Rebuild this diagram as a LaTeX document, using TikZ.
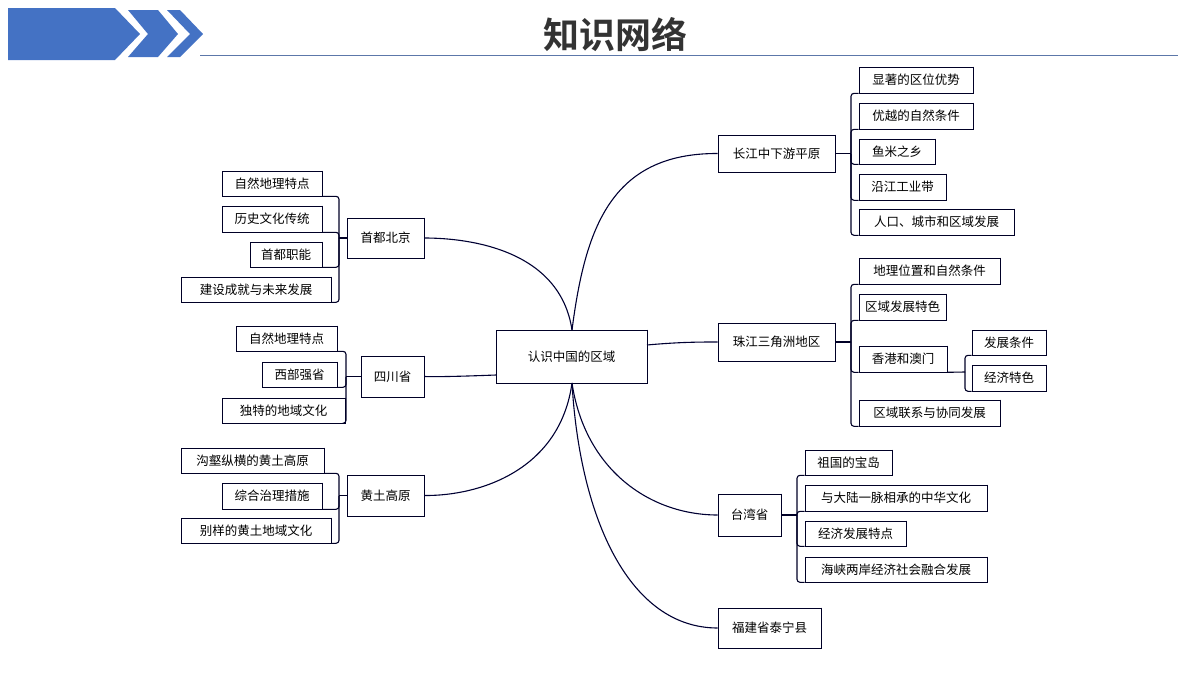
\documentclass[tikz,border=0pt]{standalone}
\usepackage{fontspec}
\setmainfont{Noto Sans CJK SC}
\newfontfamily\titlefont{Noto Sans CJK SC Bold}
\begin{document}
\begin{tikzpicture}[x=1pt,y=-1pt,
  ln/.style={draw=black!85!blue,line width=1.1pt,rounded corners=3pt},
  cv/.style={draw=black!80!blue,line width=1.1pt},
  bx/.style={draw=black!85!blue,line width=0.6pt,inner sep=0pt,font=\fontsize{12.5}{14}\selectfont,fill=white}]
\useasboundingbox (0,0) rectangle (1200,675);
\definecolor{hb}{HTML}{4472C4}
\fill[hb] (8,8)--(115,8)--(140,34)--(115,60)--(8,60)--cycle;
\fill[hb] (128,10)--(158,10)--(178,34)--(158,57)--(128,57)--(148,34)--cycle;
\fill[hb] (167,10)--(180,10)--(203,34)--(180,57)--(167,57)--(190,34)--cycle;
\draw[color=hb!60!gray,line width=0.8pt] (200,55)--(1178,55);
\node[font=\titlefont\fontsize{36}{40}\selectfont,text=black!80] (title) at (615,35) {知识网络};
\newcommand{\bxx}[6]{\node[bx,minimum width={#4-#2},minimum height={#5-#3}] (#1) at ({(#2+#4)/2},{(#3+#5)/2}) {#6};
  \draw[line width=1.6pt,black!85!blue] (#1.north east)--(#1.south east)--(#1.south west);}
% center
\bxx{c}{496}{330}{647}{383}{认识中国的区域}
% right mains
\bxx{cj}{718}{135}{835}{172}{长江中下游平原}
\bxx{zj}{718}{323}{835}{361}{珠江三角洲地区}
\bxx{tw}{718}{494}{781}{536}{台湾省}
\bxx{fj}{718}{608}{821}{648}{福建省泰宁县}
% left mains
\bxx{bj}{347}{218}{424}{258}{首都北京}
\bxx{sc}{361}{356}{424}{397}{四川省}
\bxx{ht}{347}{475}{424}{516}{黄土高原}
% curves
\draw[cv] (572,330) .. controls (585,230) and (610,153) .. (cj.west);
\draw[cv] (647,345) .. controls (680,342) and (700,342) .. (zj.west);
\draw[cv] (572,383) .. controls (585,470) and (650,515) .. (tw.west);
\draw[cv] (572,383) .. controls (580,520) and (630,628) .. (fj.west);
\draw[cv] (572,330) .. controls (560,250) and (470,238) .. (bj.east);
\draw[cv] (496,375) .. controls (470,376) and (440,377) .. (sc.east);
\draw[cv] (572,383) .. controls (560,470) and (480,496) .. (ht.east);
% children cj
\bxx{a1}{859}{67}{973}{93}{显著的区位优势}
\bxx{a2}{859}{103}{973}{129}{优越的自然条件}
\bxx{a3}{859}{139}{935}{164}{鱼米之乡}
\bxx{a4}{859}{174}{946}{200}{沿江工业带}
\bxx{a5}{859}{209}{1014}{235}{人口、城市和区域发展}
\draw[ln] (cj.east)--(851,153.5) coordinate (b1);
\foreach \n in {a1,a2,a3,a4,a5} \draw[ln] (b1) |- (\n.south west);
% children zj
\bxx{b1x}{859}{258}{1000}{284}{地理位置和自然条件}
\bxx{b2}{859}{294}{946}{320}{区域发展特色}
\bxx{b3}{859}{346}{947}{372}{香港和澳门}
\bxx{b4}{859}{400}{1000}{426}{区域联系与协同发展}
\draw[ln] (zj.east)--(851,342) coordinate (b2c);
\foreach \n in {b1x,b2,b3,b4} \draw[ln] (b2c) |- (\n.south west);
\bxx{d1}{972}{330}{1046}{355}{发展条件}
\bxx{d2}{972}{365}{1046}{391}{经济特色}
\draw[ln] (b3.south east)--(965,372) coordinate (b3c);
\foreach \n in {d1,d2} \draw[ln] (b3c) |- (\n.south west);
% children tw
\bxx{e1}{805}{450}{892}{475}{祖国的宝岛}
\bxx{e2}{805}{485}{987}{511}{与大陆一脉相承的中华文化}
\bxx{e3}{805}{521}{906}{546}{经济发展特点}
\bxx{e4}{805}{557}{987}{582}{海峡两岸经济社会融合发展}
\draw[ln] (tw.east)--(797,515) coordinate (b4c);
\foreach \n in {e1,e2,e3,e4} \draw[ln] (b4c) |- (\n.south west);
% children bj
\bxx{f1}{222}{171}{322}{196}{自然地理特点}
\bxx{f2}{222}{206}{322}{232}{历史文化传统}
\bxx{f3}{250}{242}{322}{267}{首都职能}
\bxx{f4}{181}{277}{331}{302}{建设成就与未来发展}
\draw[ln] (bj.west)--(339,238) coordinate (b5c);
\foreach \n in {f1,f2,f3,f4} \draw[ln] (b5c) |- (\n.south east);
% children sc
\bxx{g1}{236}{326}{337}{351}{自然地理特点}
\bxx{g2}{262}{362}{337}{387}{西部强省}
\bxx{g3}{222}{398}{345}{423}{独特的地域文化}
\draw[ln] (sc.west)--(346,376.5) coordinate (b6c);
\foreach \n in {g1,g2,g3} \draw[ln] (b6c) |- (\n.south east);
% children ht
\bxx{h1}{181}{448}{324}{473}{沟壑纵横的黄土高原}
\bxx{h2}{222}{483}{322}{509}{综合治理措施}
\bxx{h3}{181}{518}{331}{543}{别样的黄土地域文化}
\draw[ln] (ht.west)--(339,495.5) coordinate (b7c);
\foreach \n in {h1,h2,h3} \draw[ln] (b7c) |- (\n.south east);
\end{tikzpicture}
\end{document}
